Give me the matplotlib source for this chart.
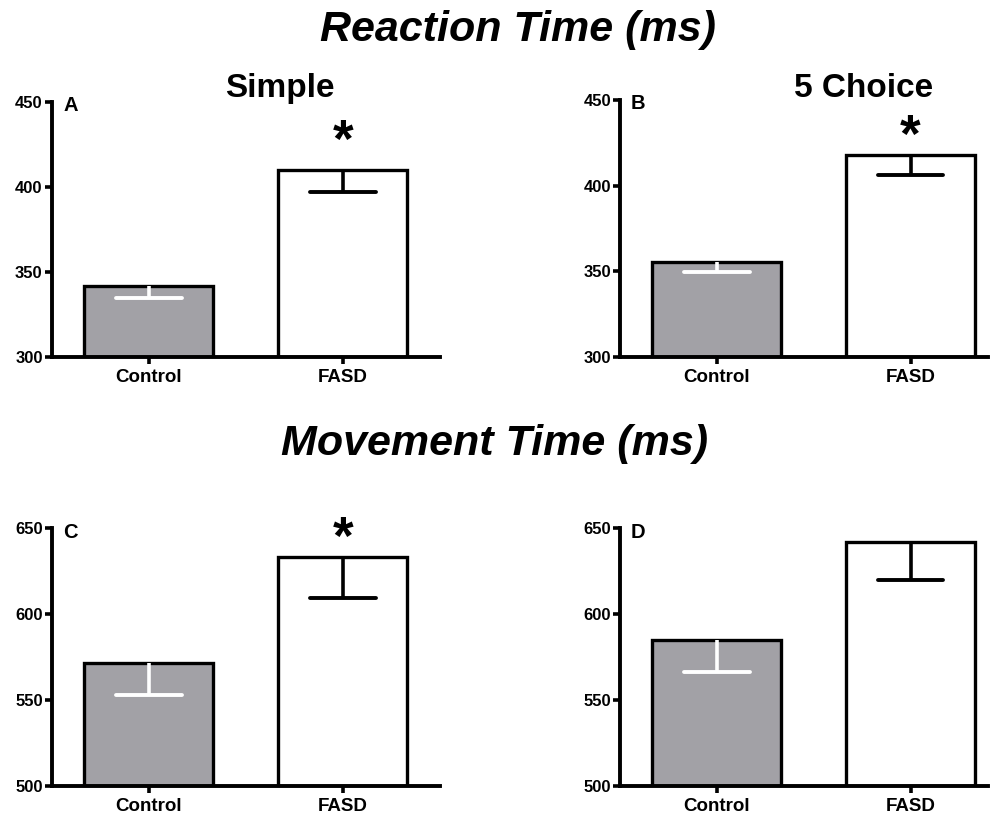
import matplotlib
matplotlib.use("Agg")
import matplotlib.pyplot as plt

plt.rcParams['font.family'] = ['Liberation Sans', 'DejaVu Sans']

groups = ["Control", "FASD"]

# Reaction time (ms)
rt_simple_mean = [341.6, 410.0]
rt_simple_sem = [7.0, 13.0]
rt_choice_mean = [355.5, 418.0]
rt_choice_sem = [6.0, 12.0]

# Movement time (ms)
mt_simple_mean = [571.4, 633.5]
mt_simple_sem = [18.5, 24.0]
mt_choice_mean = [585.0, 642.3]
mt_choice_sem = [19.0, 22.5]

rt_ticks = [300, 350, 400, 450]
mt_ticks = [500, 550, 600, 650]

bar_colors = ["#a2a1a6", "#ffffff"]
err_colors = ["#ffffff", "#000000"]

W, H = 997, 817
fig = plt.figure(figsize=(W / 100, H / 100), dpi=100)


def axes_px(left, right, top, bottom):
    return fig.add_axes([left / W, 1 - bottom / H, (right - left) / W, (bottom - top) / H])


def panel(ax, means, sems, ticks, xmax, letter, star_y=None):
    x = [0, 1]
    ax.bar(x, [m - ticks[0] for m in means], bottom=ticks[0], width=0.665,
           color=bar_colors, edgecolor="black", linewidth=2.4, zorder=2)
    for xi, m, s, c in zip(x, means, sems, err_colors):
        ax.vlines(xi, m - s, m, colors=c, linewidth=2.6, zorder=3)
        ax.hlines(m - s, xi - 0.17, xi + 0.17, colors=c, linewidth=2.8,
                  capstyle="round", zorder=3)
    ax.set_xlim(-0.5, xmax)
    ax.set_ylim(ticks[0], ticks[-1])
    ax.set_yticks(ticks)
    ax.set_xticks(x)
    ax.set_xticklabels(groups, fontsize=13.5, fontweight="bold")
    for lab in ax.get_yticklabels():
        lab.set_fontsize(12)
        lab.set_fontweight("bold")
    for sp in ["top", "right"]:
        ax.spines[sp].set_visible(False)
    for sp in ["left", "bottom"]:
        ax.spines[sp].set_linewidth(2.8)
    ax.tick_params(axis="both", width=2.6, length=5)
    ax.tick_params(axis="y", pad=1.5)
    ax.tick_params(axis="x", pad=3.5)
    ax.patch.set_alpha(0)
    ax.text(0.03, 0.985, letter, transform=ax.transAxes, ha="left", va="center",
            fontsize=14.5, fontweight="bold")
    if star_y is not None:
        ax.text(1, star_y, "*", ha="center", va="center", fontsize=38,
                fontweight="bold", clip_on=False)


axA = axes_px(51.7, 440, 101.7, 356.7)
axB = axes_px(620, 988, 100, 356.7)
axC = axes_px(51.7, 440, 528.3, 785.7)
axD = axes_px(620, 988, 528.3, 785.7)

panel(axA, rt_simple_mean, rt_simple_sem, rt_ticks, 1.5, "A", star_y=426)
panel(axB, rt_choice_mean, rt_choice_sem, rt_ticks, 1.4, "B", star_y=428)
panel(axC, mt_simple_mean, mt_simple_sem, mt_ticks, 1.5, "C", star_y=643)
panel(axD, mt_choice_mean, mt_choice_sem, mt_ticks, 1.4, "D")

fig.text(518 / W, 1 - 40.5 / H, "Reaction Time (ms)", ha="center", va="baseline",
         fontsize=31, fontweight="bold", fontstyle="italic")
fig.text(495 / W, 1 - 455 / H, "Movement Time (ms)", ha="center", va="baseline",
         fontsize=31, fontweight="bold", fontstyle="italic")
fig.text(280 / W, 1 - 96.7 / H, "Simple", ha="center", va="baseline",
         fontsize=24, fontweight="bold")
fig.text(864 / W, 1 - 96.7 / H, "5 Choice", ha="center", va="baseline",
         fontsize=24, fontweight="bold")

fig.savefig("out.png", dpi=100, facecolor="white")
